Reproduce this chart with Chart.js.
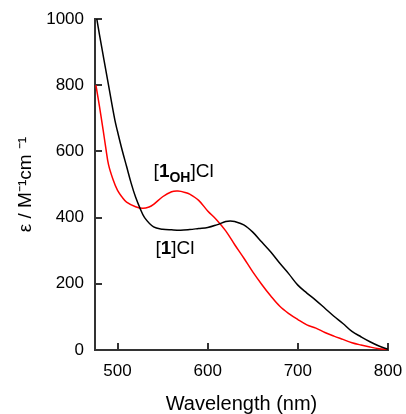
<!DOCTYPE html>
<html>
<head>
<meta charset="utf-8">
<script src="https://cdn.jsdelivr.net/npm/chart.js@4"></script>
<style>
	html, body { margin: 0; padding: 0; background: #fff; }
</style>
</head>
<body>
<canvas id="spectrum" width="406" height="414"></canvas>
<script>
// tick values
const xTicks = [500, 600, 700, 800];
const yTicks = [0, 200, 400, 600, 800, 1000];

// [1]Cl (black)
const wavelength1 = [477, 480, 485, 490, 497, 500, 505, 510, 515, 520, 525, 530, 540, 550, 560, 570, 580, 590, 600, 610, 620, 625, 630, 640, 650, 660, 670, 680, 690, 700, 710, 720, 730, 740, 750, 760, 770, 780, 790, 800];
const eps1 = [1000, 952, 876, 800, 695, 660, 605, 555, 505, 462, 428, 400, 372, 365, 363, 362, 364, 367, 370, 378, 388, 390, 388, 378, 356, 326, 296, 262, 230, 196, 172, 150, 126, 102, 80, 56, 40, 25, 12, 2];

// [1OH]Cl (red)
const wavelengthOH = [476, 480, 484, 487, 490, 495, 500, 505, 510, 520, 528, 535, 540, 550, 560, 567, 575, 580, 590, 600, 610, 620, 630, 640, 650, 660, 670, 680, 690, 700, 710, 720, 730, 740, 750, 760, 770, 780, 790, 800];
const epsOH = [800, 735, 665, 610, 560, 515, 482, 462, 447, 433, 428, 432, 440, 463, 478, 480, 476, 471, 452, 420, 393, 360, 318, 278, 236, 198, 163, 132, 110, 92, 76, 66, 53, 42, 32, 22, 15, 9, 4, 1];

// curve labels, anchored in data units (left edge, baseline)
const curveLabels = [
	{ x: 540, y: 523, parts: [["[", "n"], ["1", "b"], ["OH", "sub"], ["]Cl", "n"]] },
	{ x: 542, y: 290, parts: [["[", "n"], ["1", "b"], ["]Cl", "n"]] },
];

const FONT = "'Liberation Sans', Arial, sans-serif";

const toPoints = (xs, ys) => xs.map((x, i) => ({ x: x, y: ys[i] }));

const labelPlugin = {
	id: "curveLabels",
	afterDatasetsDraw(chart) {
		const ctx = chart.ctx;
		const xs = chart.scales.x;
		const ys = chart.scales.y;
		ctx.save();
		ctx.fillStyle = "#000";
		ctx.textBaseline = "alphabetic";
		ctx.textAlign = "left";
		curveLabels.forEach((lab) => {
			let px = xs.getPixelForValue(lab.x);
			const py = ys.getPixelForValue(lab.y);
			lab.parts.forEach(([txt, style]) => {
				let dy = 0;
				if (style === "b") ctx.font = "bold 19px " + FONT;
				else if (style === "sub") { ctx.font = "bold 14px " + FONT; dy = 5; }
				else ctx.font = "19px " + FONT;
				ctx.fillText(txt, px, py + dy);
				px += ctx.measureText(txt).width;
			});
		});
		ctx.restore();
	},
};

const axisColor = "#333";

new Chart(document.getElementById("spectrum"), {
	type: "line",
	data: {
		datasets: [
			{
				label: "[1]Cl",
				data: toPoints(wavelength1, eps1),
				borderColor: "#000",
				borderWidth: 1.5,
				pointRadius: 0,
				tension: 0.35,
			},
			{
				label: "[1OH]Cl",
				data: toPoints(wavelengthOH, epsOH),
				borderColor: "#ff0000",
				borderWidth: 1.5,
				pointRadius: 0,
				tension: 0.35,
			},
		],
	},
	options: {
		responsive: false,
		animation: false,
		layout: { padding: { top: 19, right: 18, left: 0, bottom: 0 } },
		plugins: {
			legend: { display: false },
			tooltip: { enabled: false },
		},
		scales: {
			x: {
				type: "linear",
				min: 475,
				max: 800,
				afterBuildTicks: (s) => { s.ticks = xTicks.map((v) => ({ value: v })); },
				afterFit: (s) => { s.height = 64; s.paddingLeft = 0; s.paddingRight = 0; },
				border: { color: axisColor, width: 2 },
				grid: { drawOnChartArea: false, drawTicks: true, tickLength: -7, color: axisColor, lineWidth: 2 },
				ticks: { color: "#000", font: { family: FONT, size: 17 }, padding: 18, maxRotation: 0, callback: (v) => String(v) },
				title: { display: true, text: "Wavelength (nm)", color: "#000", font: { family: FONT, size: 20 }, padding: { top: 0, bottom: -2 } },
			},
			y: {
				min: 0,
				max: 1000,
				afterBuildTicks: (s) => { s.ticks = yTicks.map((v) => ({ value: v })); },
				afterFit: (s) => { s.width = 95; s.paddingTop = 0; s.paddingBottom = 0; },
				border: { color: axisColor, width: 2 },
				grid: { drawOnChartArea: false, drawTicks: true, tickLength: -7, color: axisColor, lineWidth: 2 },
				ticks: { color: "#000", font: { family: FONT, size: 17 }, padding: 18, callback: (v) => String(v) },
				title: { display: true, text: "ε / M\u207B\u00B9cm \u207B\u00B9", color: "#000", font: { family: FONT, size: 19 }, padding: { top: 14, bottom: 0 } },
			},
		},
	},
	plugins: [labelPlugin],
});
</script>
</body>
</html>
